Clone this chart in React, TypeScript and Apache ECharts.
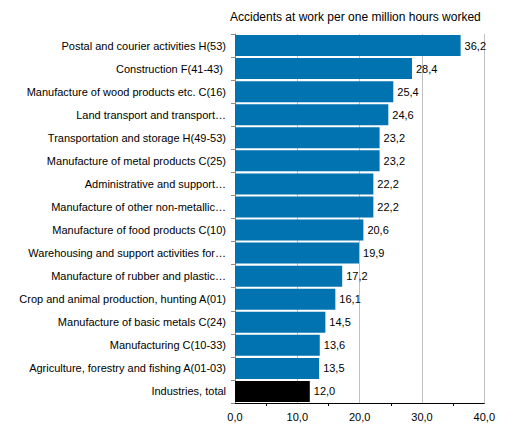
import React, { useEffect, useRef } from "react";
import * as echarts from "echarts";

const categories = [
  "Postal and courier activities H(53)",
  "Construction F(41-43) ",
  "Manufacture of wood products etc. C(16)",
  "Land transport and transport…",
  "Transportation and storage H(49-53)",
  "Manufacture of metal products C(25)",
  "Administrative and support…",
  "Manufacture of other non-metallic…",
  "Manufacture of food products C(10)",
  "Warehousing and support activities for…",
  "Manufacture of rubber and plastic…",
  "Crop and animal production, hunting A(01)",
  "Manufacture of basic metals C(24)",
  "Manufacturing C(10-33)",
  "Agriculture, forestry and fishing A(01-03)",
  "Industries, total",
];
const values = [36.2, 28.4, 25.4, 24.6, 23.2, 23.2, 22.2, 22.2, 20.6, 19.9, 17.2, 16.1, 14.5, 13.6, 13.5, 12.0];
const highlighted = ["Industries, total"];
const xTicks = [0, 10, 20, 30, 40];
const title = "Accidents at work per one million hours worked";

const FONT = "'Liberation Sans', Arial, sans-serif";

export default function App() {
  const ref = useRef<HTMLDivElement>(null);
  useEffect(() => {
    const chart = echarts.init(ref.current!, null, { renderer: "svg" });
    chart.setOption({
      animation: false,
      textStyle: { fontFamily: FONT },
      title: {
        text: title,
        left: 217,
        top: -2,
        textStyle: { fontFamily: FONT, fontSize: 12, fontWeight: "normal", color: "#000" },
      },
      grid: { left: 227, right: 10, top: 26, bottom: 20, containLabel: false },
      xAxis: {
        type: "value",
        min: xTicks[0],
        max: xTicks[xTicks.length - 1],
        interval: 10,
        axisLine: { show: true, lineStyle: { color: "#000", width: 1 } },
        axisTick: { show: false },
        minorTick: { show: true, splitNumber: 2, length: 3, lineStyle: { color: "#000" } },
        splitLine: { show: true, lineStyle: { color: "#c0c0c0", width: 1 } },
        axisLabel: {
          color: "#000",
          fontSize: 11,
          fontFamily: FONT,
          margin: 8,
          formatter: (v: number) => v.toFixed(1).replace(".", ","),
        },
      },
      yAxis: {
        type: "category",
        data: categories,
        inverse: true,
        axisLine: { show: true, lineStyle: { color: "#8c8c8c", width: 1 } },
        axisTick: { show: true, inside: false, length: 4, lineStyle: { color: "#8c8c8c" } },
        axisLabel: { color: "#000", fontSize: 11, fontFamily: FONT, margin: 9 },
      },
      series: [
        {
          type: "bar",
          barCategoryGap: "9%",
          data: values.map((v, i) => ({
            value: v,
            itemStyle: { color: highlighted.includes(categories[i]) ? "#000000" : "#0073B0" },
          })),
          label: {
            show: true,
            position: "right",
            distance: 4,
            color: "#000",
            fontSize: 11,
            fontFamily: FONT,
            formatter: (p: any) => p.value.toFixed(1).replace(".", ","),
          },
        },
      ],
    });
    return () => chart.dispose();
  }, []);
  return <div ref={ref} style={{ width: 490, height: 415 }} />;
}
